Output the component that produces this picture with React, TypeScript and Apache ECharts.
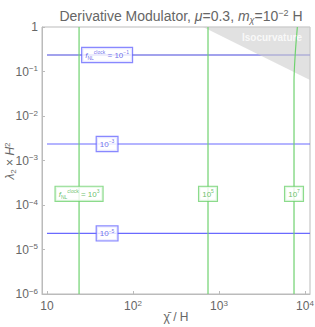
import React, { useEffect, useRef } from "react";
import * as echarts from "echarts";

const xMin = 8.75;
const xMax = 11430;
const yMin = 1e-6;
const yMax = 1;

// horizontal f_NL (blue) contours: lambda values
const blueY = [0.235, 2.35e-3, 2.3e-5];
const blueExp = ["−1", "−3", "−5"];
const blueStartX = 10;
const blueLabelX = 50;

// vertical f_NL (green) contours
const greenX = [23.6, 745, 7450];
const greenExp = ["3", "5", "7"];
const greenLabelY = 1.78e-4;
// curved top part of last green contour
const greenCurveX = [7450, 7450, 7700, 8150];
const greenCurveY = [1e-6, 0.06, 0.25, 1];

// isocurvature region
const isoX = [652, 11430, 11430];
const isoY = [1, 1, 0.0645];
const isoLabel = [4130, 0.566];

const FONT = "Liberation Sans, Arial, sans-serif";

function expOf(v: number) {
  return Math.round(Math.log10(v));
}
function fmtExp(e: number) {
  return String(e).replace("-", "−");
}

export default function App() {
  const ref = useRef<HTMLDivElement>(null);
  useEffect(() => {
    if (!ref.current) return;
    const chart = echarts.init(ref.current, null, { renderer: "svg" });
    const blue = "#6a6aff";
    const blueDark = "#4646dc";
    const green = "#6fd26f";
    const greenText = "#44b044";
    const boxRich = (c: string) => ({
      t: { fontSize: 8, color: c, fontFamily: FONT, lineHeight: 11 },
      i: { fontSize: 8, color: c, fontFamily: FONT, fontStyle: "italic", lineHeight: 11 },
      sup: { fontSize: 5, color: c, fontFamily: FONT, verticalAlign: "top", lineHeight: 11 },
      sub: { fontSize: 5, color: c, fontFamily: FONT, verticalAlign: "bottom", lineHeight: 11 },
    });
    const fnl = (e: string, full: boolean) =>
      full ? `{i|f}{sub|NL}{sup|clock}{t| = 10}{sup|${e}}` : `{t|10}{sup|${e}}`;

    const series: any[] = [];
    blueY.forEach((y, k) => {
      series.push({
        type: "line",
        data: [
          [blueStartX, y],
          [xMax, y],
        ],
        showSymbol: false,
        lineStyle: { color: k === 0 ? blueDark : blue, width: 1.2 },
        z: 2,
      });
    });
    greenX.forEach((x, k) => {
      const data =
        k === greenX.length - 1
          ? greenCurveX.map((gx, j) => [gx, greenCurveY[j]])
          : [
              [x, yMin],
              [x, yMax],
            ];
      series.push({
        type: "line",
        data,
        showSymbol: false,
        smooth: k === greenX.length - 1 ? 0.3 : false,
        lineStyle: { color: green, width: 1.2 },
        z: 4,
      });
    });
    series.push({
      type: "custom",
      data: isoX.map((x, i) => [x, isoY[i]]),
      renderItem: (params: any, api: any) => {
        if (params.dataIndex !== 0) return null;
        const pts = isoX.map((x, i) => api.coord([x, isoY[i]]));
        return {
          type: "polygon",
          shape: { points: pts },
          style: { fill: "rgba(205,205,205,0.6)", stroke: "none" },
        };
      },
      z: 3,
      silent: true,
    });
    series.push({
      type: "scatter",
      data: blueY.map((y) => [blueLabelX, y]),
      symbolSize: 1,
      itemStyle: { color: "transparent" },
      z: 6,
      label: {
        show: true,
        position: "inside",
        formatter: (p: any) => fnl(blueExp[p.dataIndex], p.dataIndex === 0),
        backgroundColor: "#fff",
        borderColor: blue,
        borderWidth: 1.2,
        padding: [2, 3, 1, 3],
        rich: boxRich("#4a4ae6"),
      },
    });
    series.push({
      type: "scatter",
      data: greenX.map((x) => [x, greenLabelY]),
      symbolSize: 1,
      itemStyle: { color: "transparent" },
      z: 6,
      label: {
        show: true,
        position: "inside",
        formatter: (p: any) => fnl(greenExp[p.dataIndex], p.dataIndex === 0),
        backgroundColor: "#fff",
        borderColor: green,
        borderWidth: 1.2,
        padding: [2, 3, 1, 3],
        rich: boxRich(greenText),
      },
    });
    series.push({
      type: "scatter",
      data: [isoLabel],
      symbolSize: 1,
      itemStyle: { color: "transparent" },
      z: 6,
      label: {
        show: true,
        position: "inside",
        formatter: "Isocurvature",
        color: "#fff",
        fontWeight: "bold",
        fontSize: 10,
        fontFamily: FONT,
      },
    });

    const tickRich = {
      b: { fontSize: 12, color: "#666", fontFamily: FONT, lineHeight: 14 },
      s: { fontSize: 8, color: "#666", fontFamily: FONT, verticalAlign: "top", lineHeight: 14 },
    };
    const tickFmt = (v: number) => {
      const e = expOf(v);
      if (e === 0) return "{b|1}";
      if (e === 1) return "{b|10}";
      return `{b|10}{s|${fmtExp(e)}}`;
    };

    chart.setOption({
      animation: false,
      title: {
        text: "{a|Derivative Modulator, }{i|μ}{a|=0.3, }{i|m}{sub|χ}{a|=10}{sup|−2}{a| H}",
        left: 176,
        top: 3,
        textAlign: "center",
        textStyle: {
          fontWeight: "normal",
          rich: {
            a: { fontSize: 14, color: "#666", fontFamily: FONT, fontWeight: "normal", lineHeight: 16 },
            i: { fontSize: 14, color: "#666", fontFamily: FONT, fontWeight: "normal", fontStyle: "italic", lineHeight: 16 },
            sub: { fontSize: 9, color: "#666", fontFamily: FONT, fontWeight: "normal", fontStyle: "italic", verticalAlign: "bottom", lineHeight: 16 },
            sup: { fontSize: 9, color: "#666", fontFamily: FONT, fontWeight: "normal", verticalAlign: "top", lineHeight: 16 },
          },
        },
      },
      graphic: [
        {
          type: "text",
          x: 10,
          y: 161,
          rotation: Math.PI / 2,
          style: {
            text: "{i|λ}{sub|2}{t| × }{i|H}{sup|2}",
            align: "center",
            verticalAlign: "middle",
            rich: {
              t: { fontSize: 12, fill: "#666", fontFamily: FONT, lineHeight: 14 },
              i: { fontSize: 12, fill: "#666", fontFamily: FONT, fontStyle: "italic", lineHeight: 14 },
              sub: { fontSize: 8, fill: "#666", fontFamily: FONT, verticalAlign: "bottom", lineHeight: 14 },
              sup: { fontSize: 8, fill: "#666", fontFamily: FONT, verticalAlign: "top", lineHeight: 14 },
            },
          },
        },
        {
          type: "text",
          x: 176,
          y: 317,
          style: {
            text: "χ\u0304 / H",
            align: "center",
            verticalAlign: "middle",
            fontSize: 12,
            fill: "#666",
            fontFamily: FONT,
          },
        },
      ],
      grid: {
        left: 42,
        right: 5,
        top: 27,
        bottom: 33,
        containLabel: false,
        outerBoundsMode: "none",
        show: true,
        borderColor: "#bbb",
        borderWidth: 1,
        backgroundColor: "#fff",
      },
      xAxis: {
        type: "log",
        logBase: 10,
        min: xMin,
        max: xMax,
        axisLine: { show: true, lineStyle: { color: "#bbb" } },
        axisTick: { show: true, inside: true, length: 3, lineStyle: { color: "#bbb" } },
        splitLine: { show: false },
        minorTick: { show: false },
        axisLabel: {
          showMinLabel: false,
          showMaxLabel: false,
          margin: 5,
          formatter: tickFmt,
          rich: tickRich,
        },
      },
      yAxis: {
        type: "log",
        logBase: 10,
        min: yMin,
        max: yMax,
        axisLine: { show: true, lineStyle: { color: "#bbb" } },
        axisTick: { show: true, inside: true, length: 3, lineStyle: { color: "#bbb" } },
        splitLine: { show: false },
        axisLabel: {
          showMinLabel: true,
          showMaxLabel: true,
          margin: 4,
          formatter: tickFmt,
          rich: tickRich,
        },
      },
      series,
    });
    return () => chart.dispose();
  }, []);
  return (
    <div
      ref={ref}
      style={{ position: "absolute", left: 0, top: 0, width: 315, height: 327 }}
    />
  );
}
